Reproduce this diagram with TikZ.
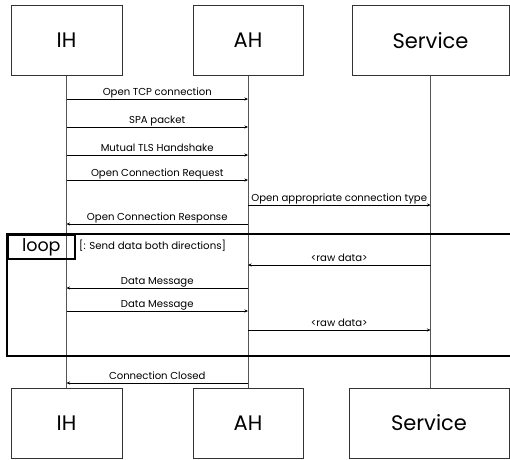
\documentclass[tikz,border=0pt]{standalone}
\usepackage{fontspec}
\setmainfont{Poppins}
\usetikzlibrary{arrows.meta}
\definecolor{cbox}{HTML}{333333}
\definecolor{clife}{HTML}{555555}
\def\xIH{66.5}
\def\xAH{248}
\def\xSV{430.5}
\def\yTop{40.5}
\def\yBot{423}

\begin{document}
\begin{tikzpicture}[x=1pt, y=-1pt, >={Stealth[length=3.5pt,width=3pt]},
  actor/.style={draw=cbox, line width=0.8pt, minimum height=70pt,
                inner sep=0pt, font=\fontsize{21}{24}\selectfont},
  life/.style={draw=clife, line width=0.8pt},
  msg/.style={->, line width=0.6pt},
  lbl/.style={anchor=base, yshift=3.5pt, inner sep=0pt,
              font=\fontsize{10.1}{12}\selectfont}]
\useasboundingbox (0,0) rectangle (510,459);

% =================== participants, top and bottom ===================
\node[actor, minimum width=111pt] (ih-top) at (\xIH,\yTop) {IH};
\node[actor, minimum width=110pt] (ah-top) at (\xAH,\yTop) {AH};
\node[actor, minimum width=157pt] (sv-top) at (\xSV,\yTop) {Service};
\node[actor, minimum width=111pt] (ih-bot) at (\xIH,\yBot) {IH};
\node[actor, minimum width=110pt] (ah-bot) at (\xAH,\yBot) {AH};
\node[actor, minimum width=160pt] (sv-bot) at (429,\yBot) {Service};

% lifelines
\foreach \p in {ih,ah,sv}
  \draw[life] (\p-top.south) -- (\p-top.south |- \p-bot.north);

% =================== loop fragment ===================
\draw[line width=1.6pt] (7,234) rectangle (514,356);
\node[draw, line width=1.6pt, anchor=north west, minimum width=67pt,
      minimum height=24pt, inner sep=0pt, font=\fontsize{17.5}{20}\selectfont]
  (loop) at (7,234) {loop};
\node[anchor=west, inner sep=0pt, font=\fontsize{10.2}{12}\selectfont]
  (guard) at (79,246) {[: Send data both directions]};

% =================== messages ===================
% from / to / y / text
\foreach \src/\dst/\y/\txt [count=\i] in {
    ih/ah/99/Open TCP connection,
    ih/ah/127/SPA packet,
    ih/ah/155/Mutual TLS Handshake,
    ih/ah/180/Open Connection Request,
    ah/sv/205/Open appropriate connection type,
    ah/ih/224/Open Connection Response,
    sv/ah/265/<raw data>,
    ah/ih/288/Data Message,
    ih/ah/311/Data Message,
    ah/sv/330/<raw data>,
    ah/ih/383/Connection Closed}{
  \coordinate (m\i-s) at (\src-top |- 0,\y);
  \coordinate (m\i-d) at (\dst-top |- 0,\y);
  \draw[msg] (m\i-s) -- (m\i-d) node[lbl, midway] {\txt};
}

\end{tikzpicture}
\end{document}
